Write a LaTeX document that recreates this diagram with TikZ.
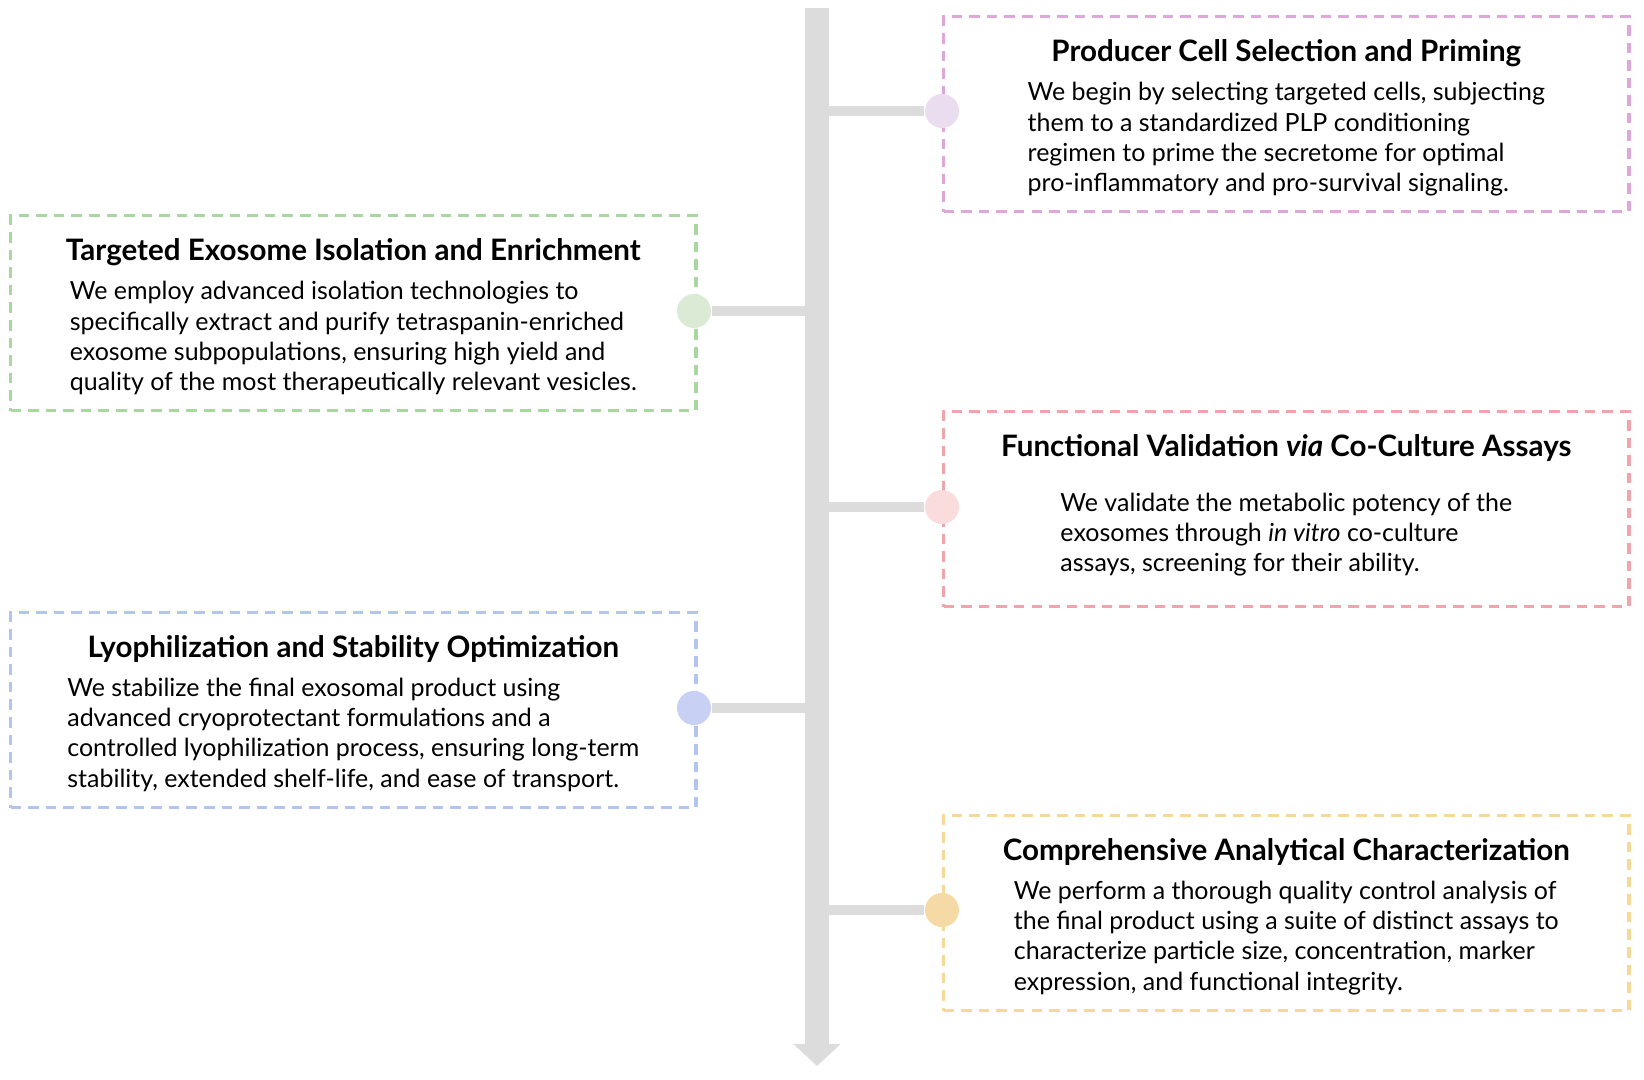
\documentclass[tikz,border=0pt]{standalone}
\usepackage{fontspec}
\setmainfont{Lato}
\usetikzlibrary{positioning,arrows.meta}
\definecolor{cPink}{HTML}{DDA8D8}\definecolor{cPinkDot}{HTML}{EBDDF0}
\definecolor{cGreen}{HTML}{A8D8A0}\definecolor{cGreenDot}{HTML}{DAEAD4}
\definecolor{cRed}{HTML}{F0A4AC}\definecolor{cRedDot}{HTML}{FADCDC}
\definecolor{cBlue}{HTML}{B4C4F0}\definecolor{cBlueDot}{HTML}{C8D0F4}
\definecolor{cOrange}{HTML}{F6D898}\definecolor{cOrangeDot}{HTML}{F6DAA6}
\definecolor{cSpine}{HTML}{DCDCDC}
\tikzset{
  stepbox/.style={draw=#1, dashed, line width=0.9pt, dash pattern=on 3pt off 2pt,
    minimum width=6.85cm, minimum height=1.95cm, inner sep=0pt},
  steptitle/.style={font=\fontsize{8.4}{10}\selectfont\bfseries, inner sep=0pt},
  stepbody/.style={font=\fontsize{7.1}{8.6}\selectfont, align=left, inner sep=0pt},
  stepdot/.style={circle, fill=#1, minimum size=0.34cm, inner sep=0pt},
  branch/.style={cSpine, line width=0.1cm},
}
\begin{document}
\begin{tikzpicture}[x=0.01cm, y=-0.01cm]
\useasboundingbox (0,0) rectangle (1644,1080);
% spine
\coordinate (top) at (817,8);
\coordinate (tip) at (817,1066);
\draw [cSpine, line width=0.23cm, -{Triangle[width=0.46cm,length=0.22cm]}] (top) -- (tip);
% boxes
\node [stepbox=cPink, anchor=north west] (b1) at (942,15) {};
\node [stepbox=cGreen, anchor=north west] (b2) at (9,214) {};
\node [stepbox=cRed, anchor=north west] (b3) at (942,410) {};
\node [stepbox=cBlue, anchor=north west] (b4) at (9,611) {};
\node [stepbox=cOrange, anchor=north west] (b5) at (942,814) {};
% titles
\node [steptitle, below=0.24cm of b1.north] (t1) {Producer Cell Selection and Priming};
\node [steptitle, below=0.24cm of b2.north] (t2) {Targeted Exosome Isolation and Enrichment};
\node [steptitle, below=0.24cm of b3.north] (t3) {Functional Validation \textit{via} Co-Culture Assays};
\node [steptitle, below=0.24cm of b4.north] (t4) {Lyophilization and Stability Optimization};
\node [steptitle, below=0.24cm of b5.north] (t5) {Comprehensive Analytical Characterization};
% bodies
\node [stepbody, below=0.14cm of t1] (x1) {We begin by selecting targeted cells, subjecting\\them to a standardized PLP conditioning\\regimen to prime the secretome for optimal\\pro-inflammatory and pro-survival signaling.};
\node [stepbody, below=0.14cm of t2] (x2) {We employ advanced isolation technologies to\\specifically extract and purify tetraspanin-enriched\\exosome subpopulations, ensuring high yield and\\quality of the most therapeutically relevant vesicles.};
\node [stepbody, below=0.3cm of t3] (x3) {We validate the metabolic potency of the\\exosomes through \textit{in vitro} co-culture\\assays, screening for their ability.};
\node [stepbody, below=0.14cm of t4] (x4) {We stabilize the final exosomal product using\\advanced cryoprotectant formulations and a\\controlled lyophilization process, ensuring long-term\\stability, extended shelf-life, and ease of transport.};
\node [stepbody, below=0.14cm of t5] (x5) {We perform a thorough quality control analysis of\\the final product using a suite of distinct assays to\\characterize particle size, concentration, marker\\expression, and functional integrity.};
% dots and branches
\node [stepdot=cPinkDot] (d1) at (942,111) {};
\node [stepdot=cGreenDot] (d2) at (694,311) {};
\node [stepdot=cRedDot] (d3) at (942,507) {};
\node [stepdot=cBlueDot] (d4) at (694,708) {};
\node [stepdot=cOrangeDot] (d5) at (942,910) {};
\foreach \d in {1,...,5}
  \draw [branch] (d\d.center -| top) -- (d\d);
\end{tikzpicture}
\end{document}
